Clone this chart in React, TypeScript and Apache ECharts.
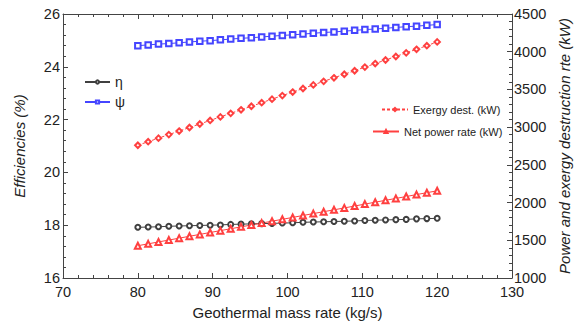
import React, { useEffect, useRef } from "react";
import * as echarts from "echarts";

const massRate = [
  80.0, 81.38, 82.76, 84.14, 85.52, 86.9, 88.28, 89.66, 91.03, 92.41,
  93.79, 95.17, 96.55, 97.93, 99.31, 100.69, 102.07, 103.45, 104.83, 106.21,
  107.59, 108.97, 110.34, 111.72, 113.1, 114.48, 115.86, 117.24, 118.62, 120.0,
];

const eta = [
  17.92, 17.93, 17.94, 17.96, 17.97, 17.98, 17.99, 18.0, 18.01, 18.03,
  18.04, 18.05, 18.06, 18.07, 18.08, 18.09, 18.11, 18.12, 18.13, 18.14,
  18.15, 18.16, 18.18, 18.19, 18.2, 18.21, 18.22, 18.24, 18.25, 18.26,
];

const psi = [
  24.8, 24.83, 24.86, 24.88, 24.91, 24.94, 24.97, 24.99, 25.02, 25.05,
  25.08, 25.1, 25.13, 25.16, 25.19, 25.21, 25.24, 25.27, 25.3, 25.32,
  25.35, 25.38, 25.41, 25.43, 25.46, 25.49, 25.52, 25.54, 25.57, 25.6,
];

const exergyDest = [
  2760, 2807, 2854, 2901, 2948, 2995, 3042, 3089, 3136, 3183,
  3230, 3277, 3324, 3371, 3418, 3465, 3512, 3560, 3607, 3654,
  3701, 3748, 3796, 3843, 3890, 3937, 3985, 4032, 4080, 4130,
];

const netPower = [
  1428, 1453, 1478, 1503, 1528, 1553, 1578, 1603, 1628, 1653,
  1678, 1703, 1728, 1753, 1778, 1803, 1829, 1854, 1879, 1904,
  1929, 1954, 1980, 2005, 2030, 2055, 2080, 2106, 2131, 2156,
];

const seriesNames = ["η", "ψ", "Exergy dest. (kW)", "Net power rate (kW)"];
const xAxisName = "Geothermal mass rate (kg/s)";
const leftAxisName = "Efficiencies (%)";
const rightAxisName = "Power and exergy destruction rte (kW)";

const FONT = "Liberation Sans";
const AXIS_COLOR = "#444";
const TEXT_COLOR = "#222";
const BLACK = "#404040";
const BLUE = "#4545ff";
const RED = "#ff4040";

const pairs = (ys: number[]) => massRate.map((x, i) => [x, ys[i]]);

export default function App() {
  const ref = useRef<HTMLDivElement>(null);

  useEffect(() => {
    if (!ref.current) return;
    const chart = echarts.init(ref.current, undefined, { renderer: "svg" });

    const axisCommon = {
      axisLine: { show: true, lineStyle: { color: AXIS_COLOR, width: 1 } },
      axisTick: { show: true, inside: true, length: 5, lineStyle: { color: AXIS_COLOR } },
      minorTick: { show: true, splitNumber: 5, length: 3, lineStyle: { color: AXIS_COLOR } },
      splitLine: { show: false },
      minorSplitLine: { show: false },
    };

    const labelStyle = { color: TEXT_COLOR, fontSize: 14.5, fontFamily: FONT };
    const nameStyle = { color: TEXT_COLOR, fontSize: 15, fontFamily: FONT };

    chart.setOption({
      animation: false,
      backgroundColor: "#fff",
      textStyle: { fontFamily: FONT },
      grid: {
        left: 63,
        right: 63,
        top: 14,
        bottom: 46,
        containLabel: false,
        outerBoundsMode: "none",
      },
      legend: [
        {
          data: [seriesNames[0], seriesNames[1]],
          orient: "vertical",
          left: 79,
          top: 70,
          itemWidth: 25,
          itemHeight: 4,
          itemGap: 6,
          textStyle: { color: TEXT_COLOR, fontSize: 14, fontFamily: FONT },
        },
        {
          data: [seriesNames[2]],
          orient: "vertical",
          left: 376,
          top: 99,
          itemWidth: 26,
          itemHeight: 4,
          textStyle: { color: TEXT_COLOR, fontSize: 11, fontFamily: FONT },
        },
        {
          data: [seriesNames[3]],
          orient: "vertical",
          left: 367,
          top: 121,
          itemWidth: 26,
          itemHeight: 4,
          textStyle: { color: TEXT_COLOR, fontSize: 11, fontFamily: FONT },
        },
      ],
      xAxis: [
        {
          type: "value",
          min: 70,
          max: 130,
          interval: 10,
          position: "bottom",
          name: xAxisName,
          nameLocation: "middle",
          nameGap: 27,
          nameTextStyle: nameStyle,
          axisLabel: { ...labelStyle, margin: 6 },
          ...axisCommon,
        },
        {
          type: "value",
          min: 70,
          max: 130,
          interval: 10,
          position: "top",
          axisLabel: { show: false },
          ...axisCommon,
        },
      ],
      yAxis: [
        {
          type: "value",
          min: 16,
          max: 26,
          interval: 2,
          position: "left",
          name: leftAxisName,
          nameLocation: "middle",
          nameRotate: 90,
          nameGap: 36,
          nameTextStyle: { ...nameStyle, fontStyle: "italic" },
          axisLabel: { ...labelStyle, margin: 3 },
          ...axisCommon,
        },
        {
          type: "value",
          min: 1000,
          max: 4500,
          interval: 500,
          position: "right",
          name: rightAxisName,
          nameLocation: "middle",
          nameRotate: 90,
          nameGap: 45,
          nameTextStyle: { ...nameStyle, fontStyle: "italic" },
          axisLabel: { ...labelStyle, margin: 2, formatter: (v: number) => String(v) },
          ...axisCommon,
        },
      ],
      series: [
        {
          name: seriesNames[0],
          type: "line",
          xAxisIndex: 0,
          yAxisIndex: 0,
          data: pairs(eta),
          symbol: "emptyCircle",
          symbolSize: 5,
          lineStyle: { color: BLACK, width: 1 },
          itemStyle: { color: BLACK, borderWidth: 0.9 },
        },
        {
          name: seriesNames[1],
          type: "line",
          xAxisIndex: 0,
          yAxisIndex: 0,
          data: pairs(psi),
          symbol: "emptyRect",
          symbolSize: 5.5,
          lineStyle: { color: BLUE, width: 1 },
          itemStyle: { color: BLUE, borderWidth: 0.9 },
        },
        {
          name: seriesNames[2],
          type: "line",
          xAxisIndex: 0,
          yAxisIndex: 1,
          data: pairs(exergyDest),
          symbol: "emptyDiamond",
          symbolSize: 5.5,
          lineStyle: { color: RED, width: 1, type: [3, 2] },
          itemStyle: { color: RED, borderWidth: 0.9 },
        },
        {
          name: seriesNames[3],
          type: "line",
          xAxisIndex: 0,
          yAxisIndex: 1,
          data: pairs(netPower),
          symbol: "emptyTriangle",
          symbolSize: 6,
          lineStyle: { color: RED, width: 1 },
          itemStyle: { color: RED, borderWidth: 0.9 },
        },
      ],
    });

    return () => chart.dispose();
  }, []);

  return (
    <div
      ref={ref}
      style={{ position: "fixed", left: 0, top: 0, width: 575, height: 324 }}
    />
  );
}
